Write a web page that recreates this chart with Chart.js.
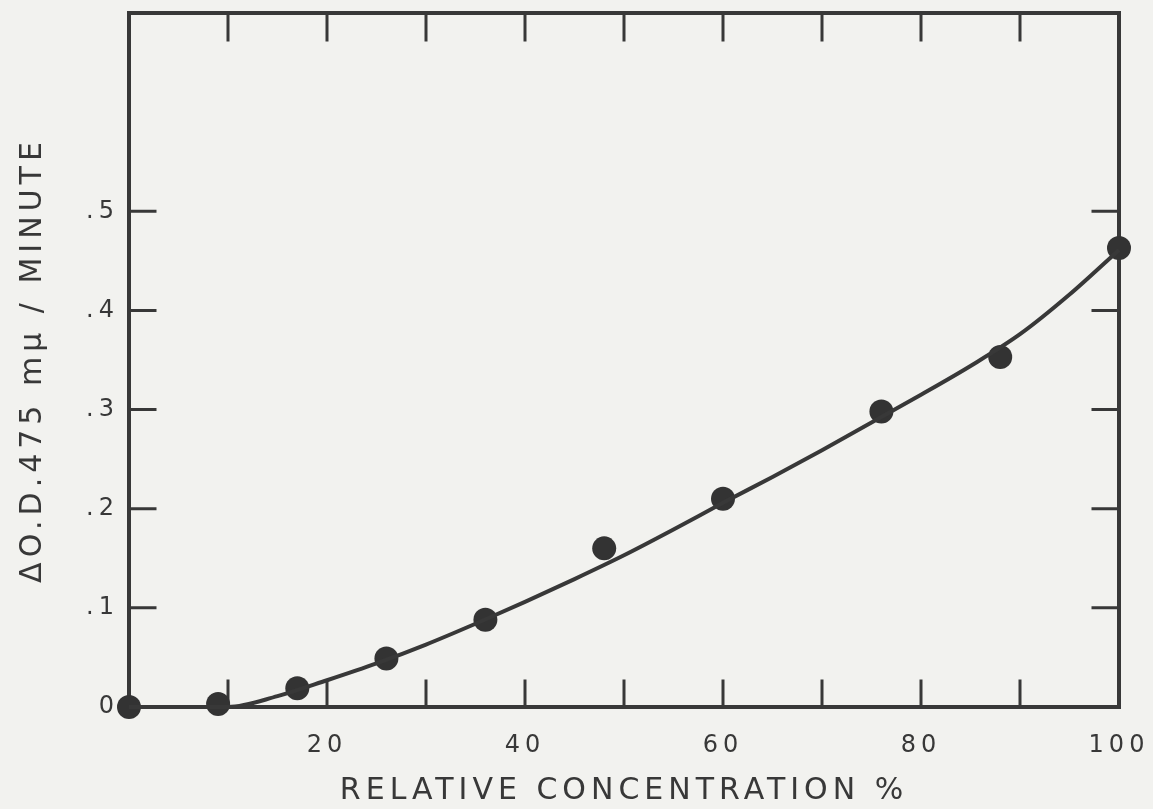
<!DOCTYPE html>
<html>
<head>
<meta charset="utf-8">
<script src="https://cdn.jsdelivr.net/npm/chart.js@4/dist/chart.umd.min.js"></script>
<style>
  html, body { margin: 0; padding: 0; background: #f2f2ef; }
  #wrap { width: 1153px; height: 809px; }
</style>
</head>
<body>
<div id="wrap"><canvas id="rateChart" width="1153" height="809"></canvas></div>
<script>
// measured points
const concentration = [0, 9, 17, 26, 36, 48, 60, 76, 88, 100];
const rate = [0, 0.003, 0.019, 0.049, 0.088, 0.160, 0.210, 0.298, 0.353, 0.463];

// fitted curve
const curveX = [0, 10, 15, 20, 25, 30, 35, 40, 45, 50, 55, 60, 65, 70, 75, 80, 85, 90, 95, 100];
const curveY = [0, 0, 0.011, 0.027, 0.044, 0.063, 0.084, 0.106, 0.129, 0.153, 0.179, 0.206, 0.232, 0.259, 0.287, 0.315, 0.344, 0.376, 0.416, 0.461];

// axes
const xLabelValues = [20, 40, 60, 80, 100];
const xTickMarks = [10, 20, 30, 40, 50, 60, 70, 80, 90];
const yLabelValues = [0, 0.1, 0.2, 0.3, 0.4, 0.5];
const yTickLabels = ['0', '.1', '.2', '.3', '.4', '.5'];
const yTickMarks = [0.1, 0.2, 0.3, 0.4, 0.5];

const ink = '#383838';

function noScalePadding(s) {
  s.paddingTop = 0;
  s.paddingBottom = 0;
  s.paddingLeft = 0;
  s.paddingRight = 0;
}

const framePlugin = {
  id: 'frame',
  beforeDraw(chart) {
    // wide, lettered look of the original
    chart.ctx.letterSpacing = '5px';
  },
  beforeDatasetsDraw(chart) {
    const { ctx, chartArea: a, scales } = chart;
    ctx.save();
    ctx.strokeStyle = ink;
    ctx.lineCap = 'square';
    ctx.lineWidth = 4;
    ctx.strokeRect(a.left, a.top, a.right - a.left, a.bottom - a.top);
    ctx.lineWidth = 3;
    ctx.beginPath();
    xTickMarks.forEach(v => {
      const px = scales.x.getPixelForValue(v);
      ctx.moveTo(px, a.bottom); ctx.lineTo(px, a.bottom - 26);
      ctx.moveTo(px, a.top); ctx.lineTo(px, a.top + 27);
    });
    yTickMarks.forEach(v => {
      const py = scales.y.getPixelForValue(v);
      ctx.moveTo(a.left, py); ctx.lineTo(a.left + 26, py);
      ctx.moveTo(a.right, py); ctx.lineTo(a.right - 26, py);
    });
    ctx.stroke();
    ctx.restore();
  }
};

const curve = curveX.map((x, i) => ({ x: x, y: curveY[i] }));
const points = concentration.map((x, i) => ({ x: x, y: rate[i] }));

new Chart(document.getElementById('rateChart').getContext('2d'), {
  type: 'scatter',
  data: {
    datasets: [
      {
        data: curve,
        showLine: true,
        cubicInterpolationMode: 'monotone',
        borderColor: ink,
        borderWidth: 4,
        pointRadius: 0,
        clip: false
      },
      {
        data: points,
        showLine: false,
        pointRadius: 12,
        pointBackgroundColor: '#333333',
        pointBorderWidth: 0,
        clip: false
      }
    ]
  },
  options: {
    responsive: false,
    animation: false,
    layout: { padding: { top: 13, right: 34, left: 0, bottom: 0 } },
    plugins: {
      legend: { display: false },
      tooltip: { enabled: false }
    },
    scales: {
      x: {
        type: 'linear',
        min: 0,
        max: 100,
        grid: { display: false, drawTicks: false },
        border: { display: false },
        ticks: {
          stepSize: 10,
          autoSkip: false,
          maxRotation: 0,
          padding: 24,
          color: ink,
          font: { family: 'DejaVu Sans', size: 24 },
          callback: v => xLabelValues.includes(Math.round(v)) ? String(Math.round(v)) : ''
        },
        title: {
          display: true,
          text: 'RELATIVE CONCENTRATION %',
          color: ink,
          font: { family: 'DejaVu Sans', size: 30 },
          padding: { top: 0, bottom: 0 }
        },
        afterFit: s => { s.height = 102; noScalePadding(s); }
      },
      y: {
        min: 0,
        max: 0.7,
        grid: { display: false, drawTicks: false },
        border: { display: false },
        ticks: {
          stepSize: 0.1,
          autoSkip: false,
          padding: 10,
          color: ink,
          font: { family: 'DejaVu Sans', size: 24 },
          callback: v => {
            const i = yLabelValues.findIndex(t => Math.abs(t - v) < 1e-6);
            return i >= 0 ? yTickLabels[i] : '';
          }
        },
        title: {
          display: true,
          text: 'ΔO.D.475 mμ / MINUTE',
          color: ink,
          font: { family: 'DejaVu Sans', size: 30 },
          padding: { top: 15, bottom: 0 }
        },
        afterFit: s => { s.width = 129; noScalePadding(s); }
      }
    }
  },
  plugins: [framePlugin]
});
</script>
</body>
</html>
